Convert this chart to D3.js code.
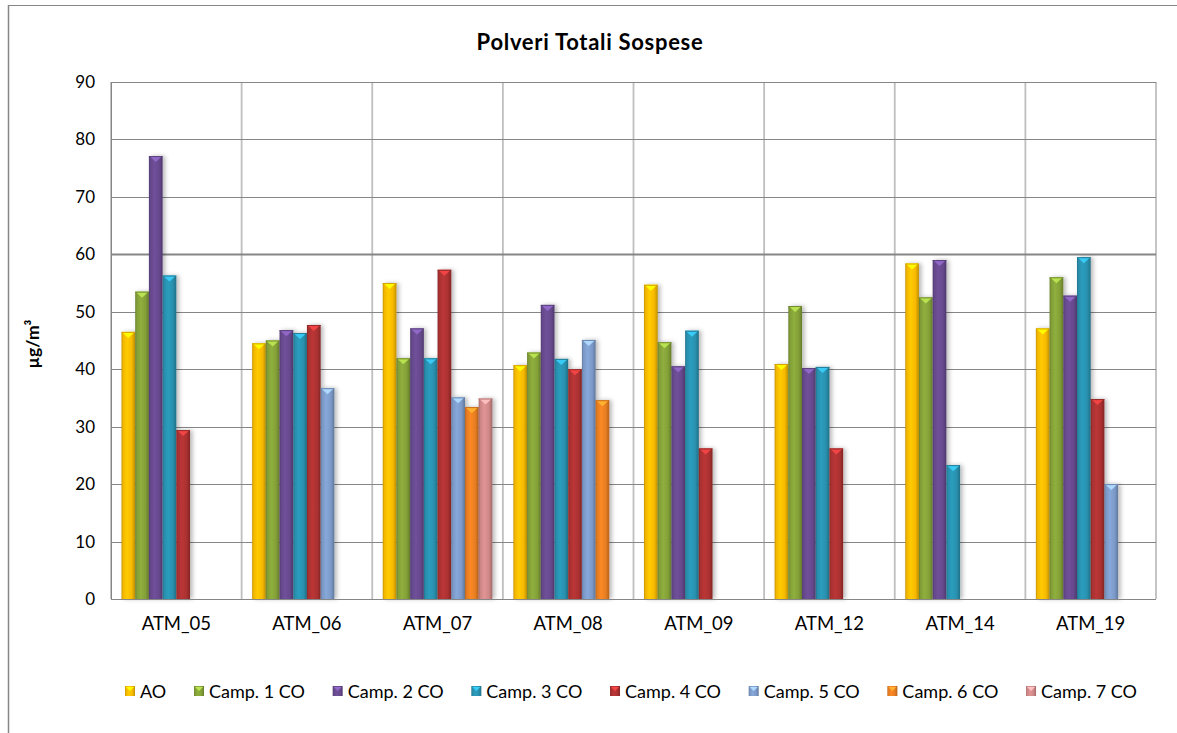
<!DOCTYPE html>
<html>
<head>
<meta charset="utf-8">
<script src="https://cdn.jsdelivr.net/npm/d3@7"></script>
<style>
  html, body { margin: 0; padding: 0; background: #fff; }
  svg { display: block; }
  text { font-family: Lato, "Open Sans", "DejaVu Sans", sans-serif; fill: #000; }
</style>
</head>
<body>
<svg id="chart" width="1177" height="733"></svg>
<script>
// Stations on the x axis
const stations = ["ATM_05", "ATM_06", "ATM_07", "ATM_08", "ATM_09", "ATM_12", "ATM_14", "ATM_19"];

// Sampling campaigns (series), in legend order
const seriesNames = ["AO", "Camp. 1 CO", "Camp. 2 CO", "Camp. 3 CO", "Camp. 4 CO", "Camp. 5 CO", "Camp. 6 CO", "Camp. 7 CO"];

// Total suspended particulate, µg/m³ (null = no sample)
const valuesAO    = [46.5, 44.5, 55.0, 40.7, 54.7, 40.9, 58.4, 47.1];
const valuesCamp1 = [53.5, 45.0, 41.9, 42.9, 44.7, 51.0, 52.5, 56.0];
const valuesCamp2 = [77.1, 46.8, 47.1, 51.2, 40.5, 40.2, 59.0, 52.8];
const valuesCamp3 = [56.3, 46.3, 41.9, 41.8, 46.7, 40.4, 23.3, 59.5];
const valuesCamp4 = [29.4, 47.7, 57.3, 40.0, 26.2, 26.2, null, 34.8];
const valuesCamp5 = [null, 36.7, 35.1, 45.1, null, null, null, 20.0];
const valuesCamp6 = [null, null, 33.4, 34.6, null, null, null, null];
const valuesCamp7 = [null, null, 34.9, null, null, null, null, null];

const yTicks = [0, 10, 20, 30, 40, 50, 60, 70, 80, 90];

const seriesValues = [valuesAO, valuesCamp1, valuesCamp2, valuesCamp3, valuesCamp4, valuesCamp5, valuesCamp6, valuesCamp7];
const seriesColors = ["#FFC000", "#88A63A", "#6A4C92", "#2A95B4", "#B13333", "#809FCF", "#EF8223", "#D68C8C"];

const svg = d3.select("#chart");
const margin = { left: 111, top: 82, right: 1156, bottom: 599 };

// Outer chart frame (top and left edges visible)
svg.append("line").attr("x1", 8).attr("x2", 1177).attr("y1", 5.5).attr("y2", 5.5)
  .attr("stroke", "#868686").attr("stroke-width", 1.2);
svg.append("line").attr("x1", 8.5).attr("x2", 8.5).attr("y1", 5).attr("y2", 733)
  .attr("stroke", "#868686").attr("stroke-width", 1.5);

// Scales
const x = d3.scaleBand().domain(stations).range([margin.left, margin.right]).paddingInner(0).paddingOuter(0);
const xInner = d3.scaleBand().domain(seriesNames)
  .range([10.5, x.bandwidth() - 10.5]).paddingInner(0);
const y = d3.scaleLinear().domain([0, 90]).range([margin.bottom, margin.top]);

// Defs: gradients and shadow
const defs = svg.append("defs");
const shadow = defs.append("filter").attr("id", "shadow")
  .attr("x", "-50%").attr("y", "-10%").attr("width", "200%").attr("height", "120%");
shadow.append("feDropShadow").attr("dx", 2.5).attr("dy", 0).attr("stdDeviation", 2)
  .attr("flood-color", "#000").attr("flood-opacity", 0.28);

seriesColors.forEach((c, i) => {
  const base = d3.color(c);
  const g = defs.append("linearGradient").attr("id", "grad" + i)
    .attr("x1", "0%").attr("x2", "100%").attr("y1", "0%").attr("y2", "0%");
  g.append("stop").attr("offset", "0%").attr("stop-color", base.darker(0.7));
  g.append("stop").attr("offset", "12%").attr("stop-color", base.darker(0.15));
  g.append("stop").attr("offset", "40%").attr("stop-color", base.brighter(0.15));
  g.append("stop").attr("offset", "75%").attr("stop-color", base.darker(0.1));
  g.append("stop").attr("offset", "100%").attr("stop-color", base.darker(0.8));
});

// Gridlines
const grid = svg.append("g");
grid.selectAll(".vgrid").data(d3.range(stations.length + 1)).join("line")
  .attr("x1", i => i < stations.length ? x(stations[i]) : margin.right)
  .attr("x2", i => i < stations.length ? x(stations[i]) : margin.right)
  .attr("y1", margin.top).attr("y2", margin.bottom)
  .attr("stroke", i => i === 0 ? "#868686" : "#BFBFBF")
  .attr("stroke-width", i => i === 0 ? 1 : 1.8);
grid.selectAll(".hgrid").data(yTicks).join("line")
  .attr("x1", margin.left).attr("x2", margin.right)
  .attr("y1", d => Math.round(y(d)) + 0.5).attr("y2", d => Math.round(y(d)) + 0.5)
  .attr("stroke", "#868686")
  .attr("stroke-width", d => d === 60 ? 1.8 : 1);

// Y axis labels
const yAxis = d3.axisLeft(y).tickValues(yTicks).tickSize(0).tickPadding(16);
svg.append("g").attr("transform", `translate(${margin.left},0)`).call(yAxis)
  .call(g => g.select(".domain").remove())
  .selectAll("text").attr("font-size", 17).attr("font-family", "Lato, sans-serif").attr("fill", "#000");

// X axis labels
const xAxis = d3.axisBottom(x).tickSize(0).tickPadding(18);
svg.append("g").attr("transform", `translate(0,${margin.bottom})`).call(xAxis)
  .call(g => g.select(".domain").remove())
  .selectAll("text").attr("font-size", 18.5).attr("font-family", "Lato, sans-serif").attr("fill", "#000");

// Bars
const bars = [];
seriesValues.forEach((vals, si) => {
  vals.forEach((v, gi) => {
    if (v !== null) bars.push({ station: stations[gi], series: seriesNames[si], si, value: v });
  });
});

const barG = svg.append("g");
const barSel = barG.selectAll("g.bar").data(bars).join("g").attr("class", "bar");
barSel.append("rect")
  .attr("x", d => x(d.station) + xInner(d.series))
  .attr("y", d => y(d.value))
  .attr("width", xInner.bandwidth())
  .attr("height", d => y(0) - y(d.value))
  .attr("fill", d => `url(#grad${d.si})`)
  .attr("filter", "url(#shadow)");
// Bevelled top cap
barSel.append("path")
  .attr("d", d => {
    const x0 = x(d.station) + xInner(d.series), w = xInner.bandwidth(), y0 = y(d.value);
    return `M${x0 + 0.5},${y0}L${x0 + w - 0.5},${y0}L${x0 + w - 2.5},${y0 + 2}L${x0 + w / 2},${y0 + 6}L${x0 + 2.5},${y0 + 2}Z`;
  })
  .attr("fill", d => d3.color(seriesColors[d.si]).brighter(0.9))
  .attr("opacity", 0.95);
barSel.append("line")
  .attr("x1", d => x(d.station) + xInner(d.series))
  .attr("x2", d => x(d.station) + xInner(d.series) + xInner.bandwidth())
  .attr("y1", d => y(d.value) + 0.5).attr("y2", d => y(d.value) + 0.5)
  .attr("stroke", d => d3.color(seriesColors[d.si]).darker(0.5)).attr("stroke-width", 1);

// Axis lines on top of bars
svg.append("line").attr("x1", margin.left).attr("x2", margin.right)
  .attr("y1", margin.bottom + 0.5).attr("y2", margin.bottom + 0.5).attr("stroke", "#868686");
svg.append("line").attr("x1", margin.left + 0.5).attr("x2", margin.left + 0.5)
  .attr("y1", margin.top).attr("y2", margin.bottom).attr("stroke", "#868686");

// Title
svg.append("text").attr("x", 590).attr("y", 50).attr("text-anchor", "middle")
  .attr("font-size", 22).attr("font-weight", "bold").attr("letter-spacing", 0.7)
  .text("Polveri Totali Sospese");

// Y axis title
svg.append("text").attr("transform", "translate(39,344) rotate(-90)").attr("text-anchor", "middle")
  .attr("font-size", 17.5).attr("font-weight", "bold")
  .text("µg/m³");

// Legend
const legend = svg.append("g").attr("transform", "translate(0,691)");
const items = legend.selectAll("g").data(seriesNames).join("g");
items.append("rect").attr("x", 0).attr("y", -5).attr("width", 10).attr("height", 10)
  .attr("fill", (d, i) => `url(#grad${i})`);
items.append("path")
  .attr("d", "M1,-4L9,-4L5,0Z")
  .attr("fill", (d, i) => d3.color(seriesColors[i]).brighter(0.9));
items.append("text").attr("x", 15).attr("y", 6.5).attr("font-size", 18).text(d => d);
let cursor = 0;
const gap = 28;
const positions = [];
items.each(function () {
  positions.push(cursor);
  const w = d3.select(this).select("text").node().getComputedTextLength();
  cursor += 15 + w + gap;
});
const total = cursor - gap;
const startX = 125;
const endX = 1137;
const spread = (endX - startX - total) / (seriesNames.length - 1);
items.attr("transform", (d, i) => `translate(${startX + positions[i] + spread * i},0)`);
</script>
</body>
</html>
